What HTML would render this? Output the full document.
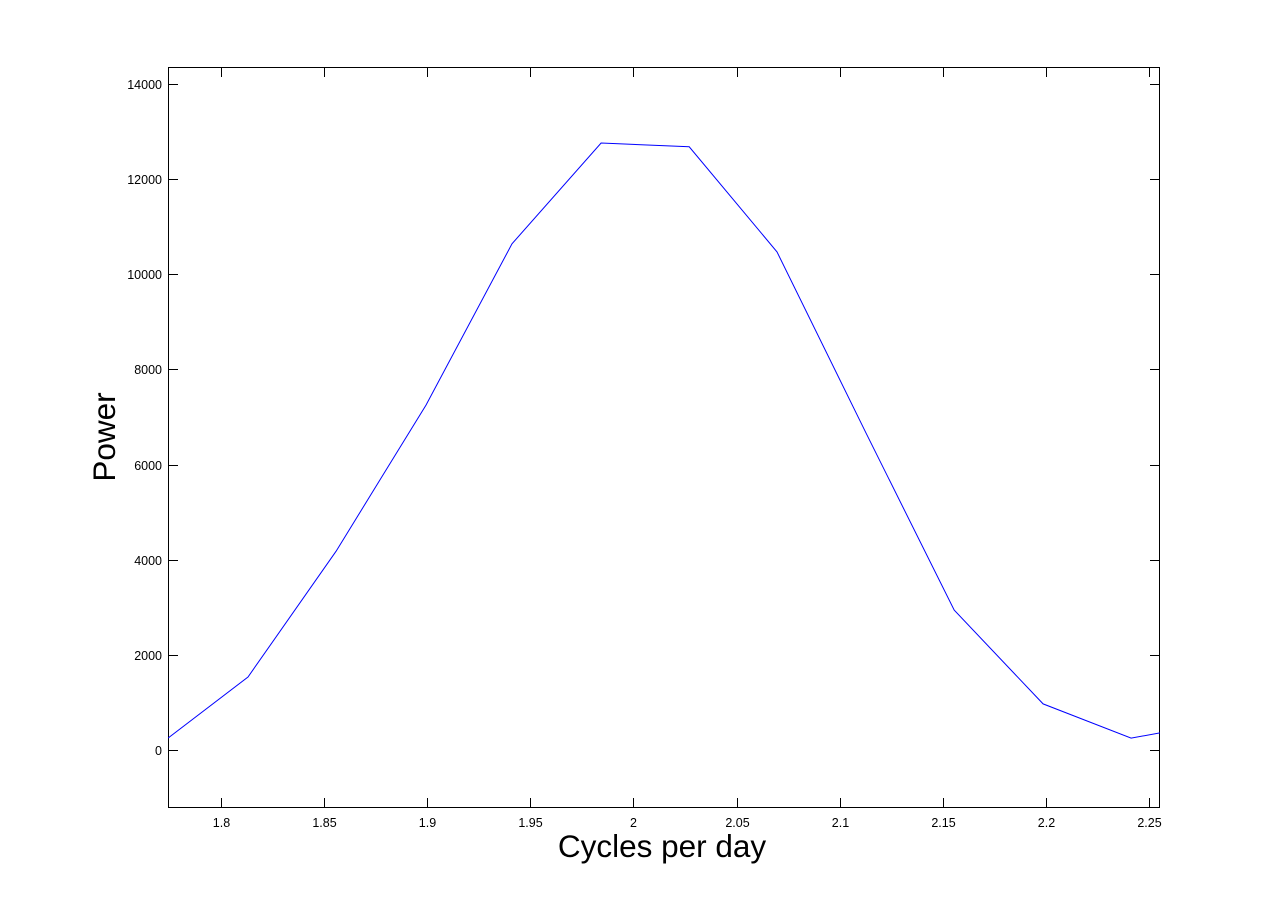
<!DOCTYPE html>
<html><head><meta charset="utf-8"><style>
body{margin:0;background:#fff;}
svg text{font-family:"Liberation Sans",Arial,sans-serif;}
</style></head><body>
<svg id="chart" width="1281" height="908" xmlns="http://www.w3.org/2000/svg">
<rect width="1281" height="908" fill="#fff"/>
<defs><clipPath id="pc"><rect x="168" y="67" width="992" height="741"/></clipPath></defs>
<g id="axes"></g>
<polyline id="line" fill="none" stroke="#0000ff" stroke-width="1" clip-path="url(#pc)"/>
<text x="662" y="857" font-size="31.5" text-anchor="middle">Cycles per day</text>
<text x="115" y="437" font-size="31.5" text-anchor="middle" transform="rotate(-90 115 437)">Power</text>
</svg>
<script>
const freqs=[1.7743,1.8131,1.8558,1.8994,1.9411,1.9843,2.0270,2.0696,2.1128,2.1555,2.1986,2.2413,2.2553];
const power=[250,1535,4180,7250,10640,12760,12680,10470,6660,2940,970,250,360];
const xTicks=[1.8,1.85,1.9,1.95,2,2.05,2.1,2.15,2.2,2.25];
const xTickLabels=["1.8","1.85","1.9","1.95","2","2.05","2.1","2.15","2.2","2.25"];
const yTicks=[0,2000,4000,6000,8000,10000,12000,14000];
const yTickLabels=["0","2000","4000","6000","8000","10000","12000","14000"];
const L=168,R=1160,T=67,B=808;
const xMin=1.7743,xMax=2.2553,yMin=-1219,yMax=14357;
const sx=v=>L+(v-xMin)/(xMax-xMin)*(R-L);
const sy=v=>B-(v-yMin)/(yMax-yMin)*(B-T);
const NS="http://www.w3.org/2000/svg";
const g=document.getElementById('axes');
function mk(t,a){const e=document.createElementNS(NS,t);for(const k in a)e.setAttribute(k,a[k]);g.appendChild(e);return e;}
const box=mk('rect',{x:L+0.5,y:T+0.5,width:R-L-1,height:B-T-1,fill:'none',stroke:'#000','stroke-width':1});


xTicks.forEach((v,i)=>{const x=Math.round(sx(v))+0.5;
 mk('line',{x1:x,x2:x,y1:B,y2:B-10,stroke:'#000'});
 mk('line',{x1:x,x2:x,y1:T,y2:T+10,stroke:'#000'});
 const t=mk('text',{x:x,y:B+19,'font-size':12.5,'text-anchor':'middle'});t.textContent=xTickLabels[i];
 
 });
yTicks.forEach((v,i)=>{const y=Math.round(sy(v))+0.5;
 mk('line',{x1:L,x2:L+10,y1:y,y2:y,stroke:'#000'});
 mk('line',{x1:R,x2:R-10,y1:y,y2:y,stroke:'#000'});
 const t=mk('text',{x:L-6,y:y+4.5,'font-size':12.5,'text-anchor':'end'});t.textContent=yTickLabels[i];
 
 });
document.getElementById('line').setAttribute('points',freqs.map((f,i)=>sx(f).toFixed(1)+','+sy(power[i]).toFixed(1)).join(' '));
</script>
</body></html>
